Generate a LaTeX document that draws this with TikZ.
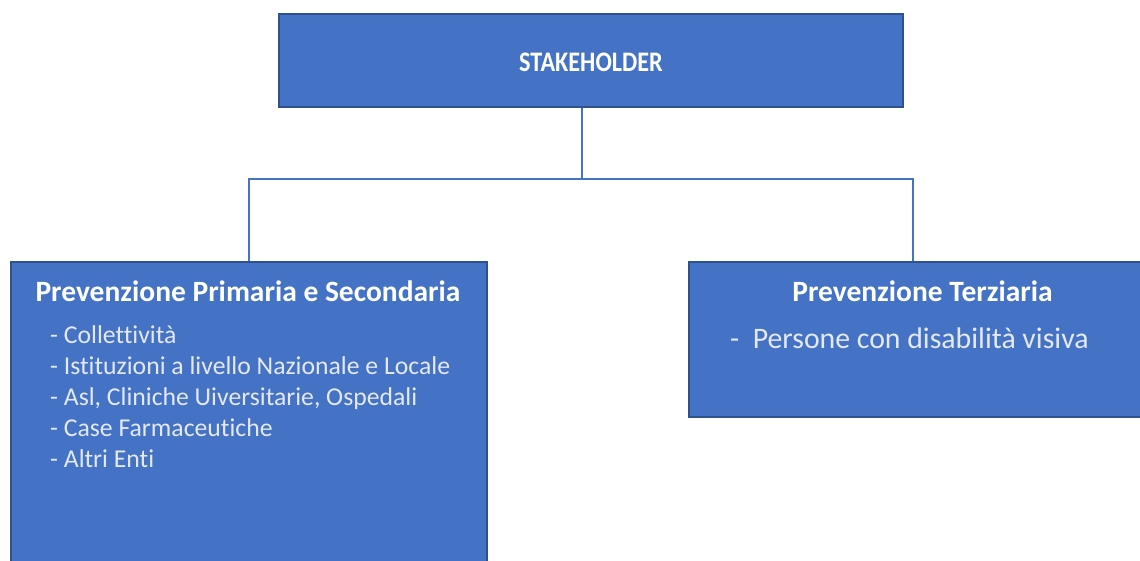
\documentclass[tikz,border=0pt]{standalone}
\usepackage{fontspec}
\setmainfont{Carlito}[Ligatures=NoCommon]
\definecolor{boxfill}{HTML}{4472C4}
\definecolor{boxedge}{HTML}{2F528F}
\definecolor{linkblue}{HTML}{4472C4}
\definecolor{itemtext}{HTML}{E4E8F1}
\begin{document}
\begin{tikzpicture}[x=1pt,y=-1pt,
  card/.style={draw=boxedge,line width=2pt,fill=boxfill,inner sep=0pt},
  link/.style={draw=linkblue,line width=1.4pt},
  heading/.style={text=white,font=\bfseries\fontsize{29.5}{34}\selectfont,inner sep=0pt,anchor=base},
  item/.style={text=itemtext,font=\fontsize{25.7}{31}\selectfont,inner sep=0pt,anchor=base west}]
\useasboundingbox (0,0) rectangle (1140,560);
\clip (0,0) rectangle (1140,560);

% top box
\node[card,minimum width=624pt,minimum height=93pt] (top) at (591,60.5) {};
\node[text=white,font=\bfseries\fontsize{24.2}{28}\selectfont,inner sep=0pt,anchor=base] (toplbl) at (591,71.5) {\scalebox{1}[1.17]{STAKEHOLDER}};

% lower boxes
\node[card,minimum width=476pt,minimum height=310pt] (left) at (249,417) {};
\node[card,minimum width=466pt,minimum height=155pt] (right) at (922,339.5) {};

% left box: heading and list
\node[heading] (lefthead) at (248,301.5) {Prevenzione Primaria e Secondaria};
\node[item] (li1) at (50,343) {- Collettività};
\node[item] (li2) at (50,374) {- Istituzioni a livello Nazionale e Locale};
\node[item] (li3) at (50,405) {- Asl, Cliniche Uiversitarie, Ospedali};
\node[item] (li4) at (50,436) {- Case Farmaceutiche};
\node[item] (li5) at (50,467) {- Altri Enti};

% right box: heading and list
\node[heading] (righthead) at (922.5,301.5) {Prevenzione Terziaria};
\node[item,font=\fontsize{29.8}{34}\selectfont] (ri1) at (730,348) {-\ \ Persone con disabilità visiva};

% connectors
\coordinate (hub) at (582,179);
\draw[link] (top.south -| hub) -- (hub) -| (left.north);
\draw[link] (hub) -| ([xshift=-9pt]right.north);
\end{tikzpicture}
\end{document}
